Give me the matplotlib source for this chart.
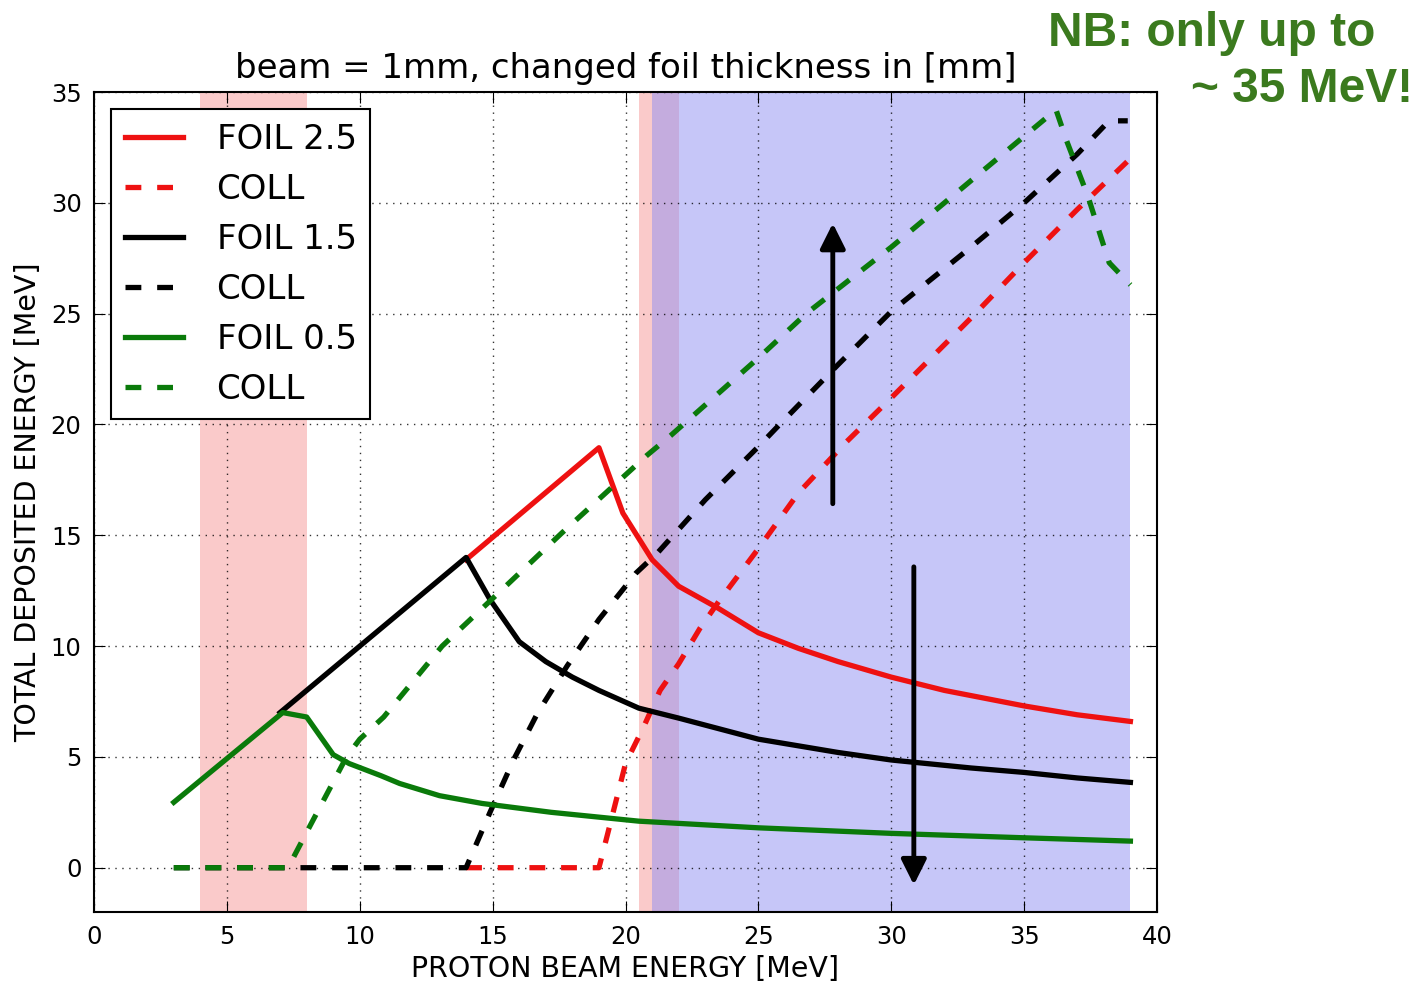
import matplotlib
matplotlib.use('Agg')
import matplotlib.pyplot as plt

# FOIL 2.5 / COLL
foil25_x = [14, 19, 19.9, 21, 22, 23.5, 25, 26.5, 28, 30, 32, 35, 37, 39]
foil25_y = [13.9, 18.95, 16.0, 13.9, 12.7, 11.7, 10.6, 9.9, 9.3, 8.6, 8.0, 7.3, 6.9, 6.6]
coll25_x = [14, 19, 19.3, 20, 20.7, 21.3, 22, 22.8, 23.5, 25, 26.5, 28.3, 30, 33, 35, 37, 39]
coll25_y = [0, 0, 1.4, 4.7, 6.4, 8.0, 9.2, 10.8, 12.0, 14.4, 16.9, 19.2, 21.2, 24.8, 27.3, 29.7, 32.0]

# FOIL 1.5 / COLL
foil15_x = [7, 14, 14.9, 16, 17, 18, 19, 20.5, 22, 25, 28, 30, 33, 35, 37, 39]
foil15_y = [7.0, 14.0, 12.1, 10.2, 9.3, 8.6, 8.0, 7.2, 6.75, 5.8, 5.2, 4.86, 4.5, 4.3, 4.05, 3.85]
coll15_x = [3, 14, 14.9, 15.8, 16.7, 17.8, 19, 20.4, 21.2, 23, 25, 25.8, 28, 30, 33, 35, 37, 38.2, 38.9]
coll15_y = [0, 0, 2.5, 4.9, 7.0, 9.1, 11.2, 13.3, 14.2, 16.6, 19.0, 20.0, 22.7, 25.1, 28.0, 30.0, 32.2, 33.7, 33.7]

# FOIL 0.5 / COLL
foil05_x = [3, 7.1, 8, 9, 9.6, 10.8, 11.5, 13, 14.6, 17.2, 20.5, 25, 30, 35, 39]
foil05_y = [2.95, 7.0, 6.8, 5.1, 4.7, 4.15, 3.8, 3.25, 2.9, 2.5, 2.1, 1.8, 1.55, 1.35, 1.2]
coll05_x = [3, 7.3, 8, 9.5, 10, 10.9, 13.1, 15.4, 17.6, 20.8, 21.7, 25, 26.8, 30, 35, 36.2, 36.6, 37.4, 38.2, 39]
coll05_y = [0, 0, 1.6, 5.0, 5.8, 6.8, 10.0, 12.6, 15.1, 18.6, 19.5, 23.0, 25.0, 28.0, 33.0, 34.2, 32.8, 30.3, 27.3, 26.3]

pink_bands = [(4, 8), (20.5, 22)]
blue_band = (21, 39)

fig = plt.figure(figsize=(14.21, 9.81), dpi=100)
ax = fig.add_axes([0.0662, 0.0703, 0.748, 0.8359])

for lo, hi in pink_bands:
    ax.axvspan(lo, hi, color='#f7a8a8', alpha=0.6, lw=0, zorder=0)
ax.axvspan(blue_band[0], blue_band[1], color='#8f8ff2', alpha=0.5, lw=0, zorder=0)

lw = 3.8
red, green = '#ee1111', '#0a7a0a'
ax.plot(foil25_x, foil25_y, color=red, lw=lw, label='FOIL 2.5')
ax.plot(coll25_x, coll25_y, color=red, lw=lw, ls='--', dashes=(3, 3), label='COLL')
ax.plot(foil15_x, foil15_y, color='black', lw=lw, label='FOIL 1.5')
ax.plot(coll15_x, coll15_y, color='black', lw=lw, ls='--', dashes=(3, 3), label='COLL')
ax.plot(foil05_x, foil05_y, color=green, lw=lw, label='FOIL 0.5')
ax.plot(coll05_x, coll05_y, color=green, lw=lw, ls='--', dashes=(3, 3), label='COLL')

# arrows
ax.annotate('', xy=(27.8, 29.2), xytext=(27.8, 16.3),
            arrowprops=dict(arrowstyle='-|>', color='black', lw=3.5, mutation_scale=38))
ax.annotate('', xy=(30.85, -0.9), xytext=(30.85, 13.7),
            arrowprops=dict(arrowstyle='-|>', color='black', lw=3.5, mutation_scale=38))

ax.set_xlim(0, 40)
ax.set_ylim(-2, 35)
ax.set_xticks(range(0, 41, 5))
ax.set_yticks(range(0, 36, 5))
ax.tick_params(direction='in', top=True, right=True, labelsize=17.5, length=8, pad=9)
ax.grid(True, color='black', ls=(0, (1, 4)), lw=1, alpha=0.8)
for s in ax.spines.values():
    s.set_linewidth(1.5)

ax.set_xlabel('PROTON BEAM ENERGY [MeV]', fontsize=20.5, labelpad=5)
ax.set_ylabel('TOTAL DEPOSITED ENERGY [MeV]', fontsize=20.5, labelpad=6)
ax.set_title('beam = 1mm, changed foil thickness in [mm]', fontsize=24.5, pad=10)

leg = ax.legend(loc='upper left', fontsize=24.5, fancybox=False, framealpha=1,
                edgecolor='black', handlelength=1.7, handletextpad=1.0,
                borderpad=0.4, labelspacing=0.5)
leg.get_frame().set_linewidth(1.5)
leg.set_zorder(5)

nb_green = '#3b7a1e'
fig.text(1048 / 1421, 1 - 46 / 981, 'NB: only up to', ha='left', va='baseline',
         fontsize=34.5, fontweight='bold', color=nb_green, family='Liberation Sans')
fig.text(1413 / 1421, 1 - 102 / 981, '~ 35 MeV!', ha='right', va='baseline',
         fontsize=34.5, fontweight='bold', color=nb_green, family='Liberation Sans')

fig.savefig('out.png', dpi=100)
